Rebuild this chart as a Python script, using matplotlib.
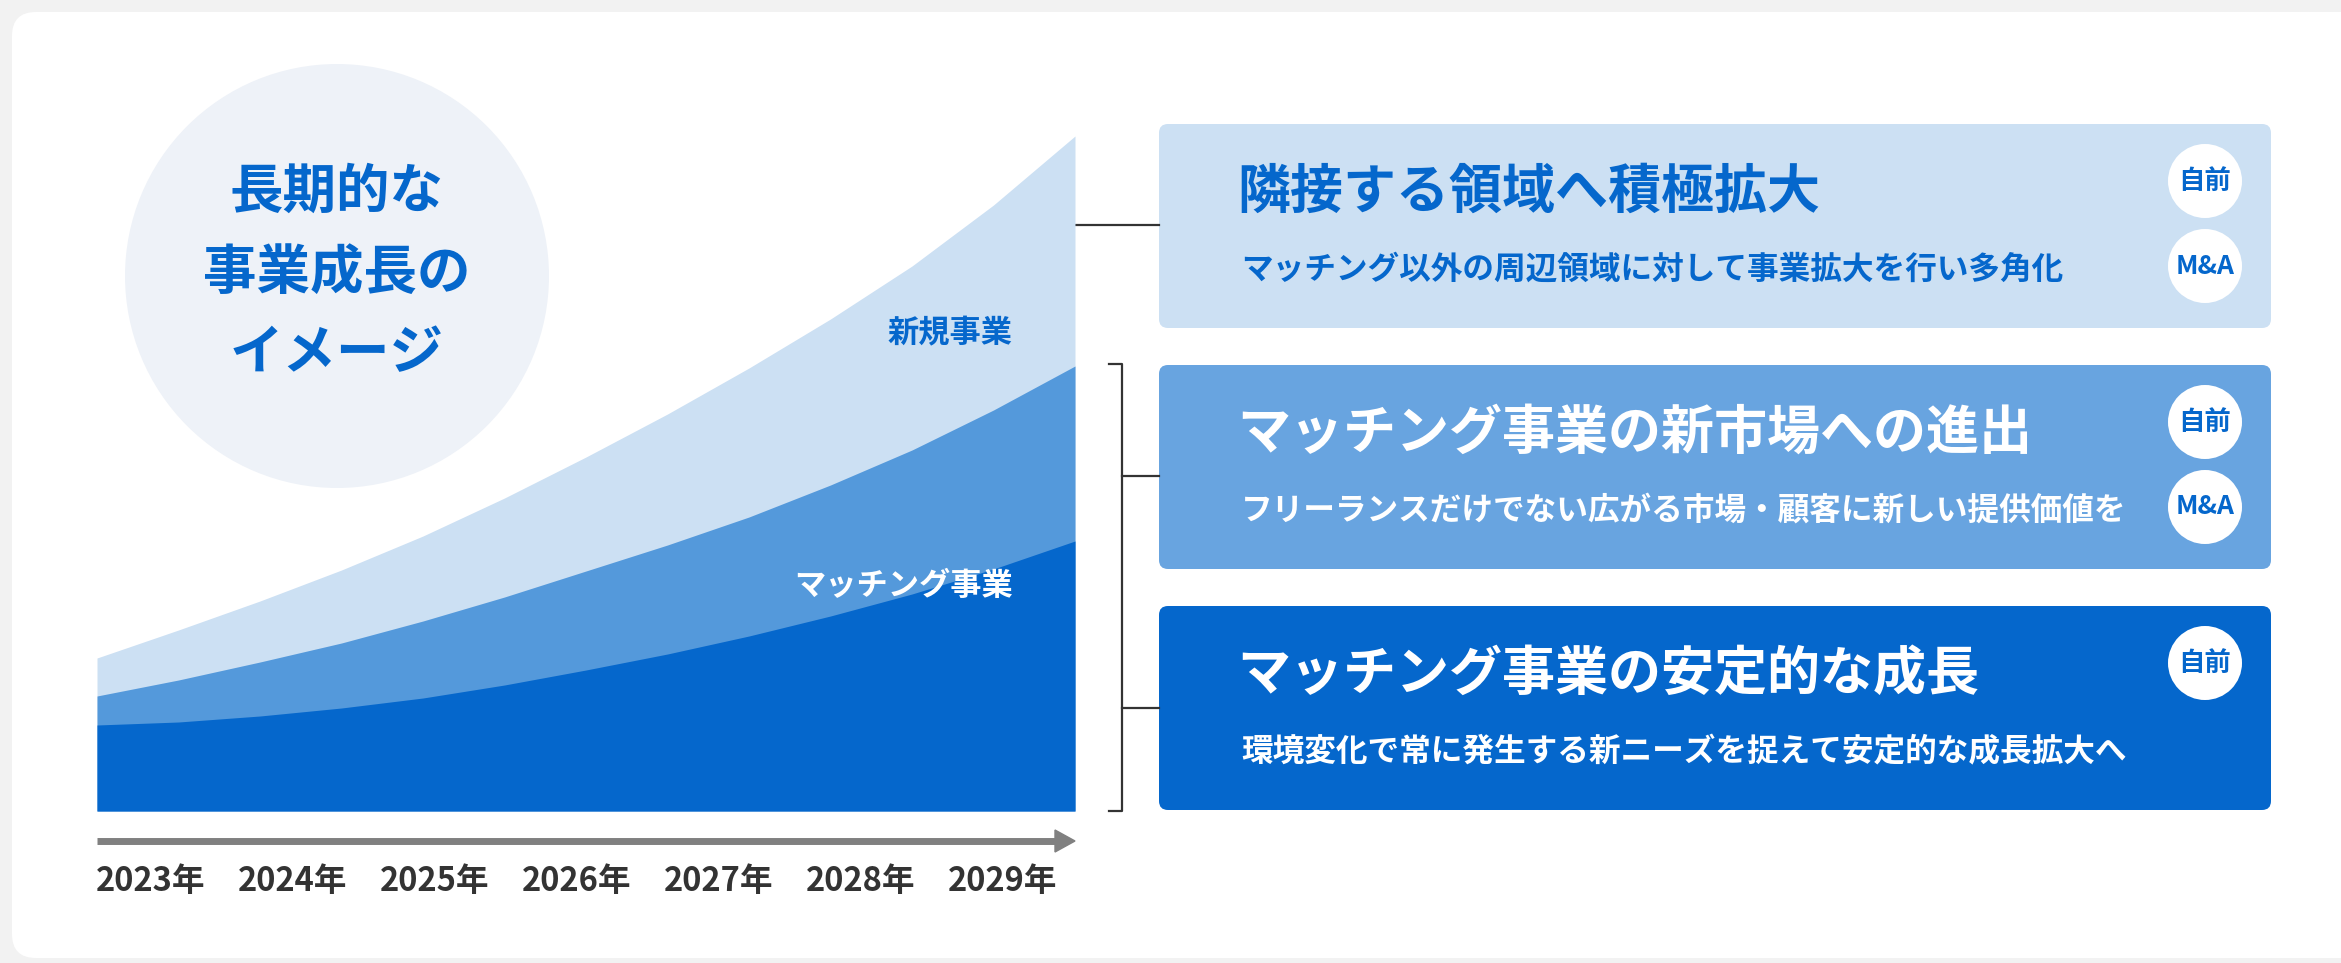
import matplotlib.pyplot as plt
from matplotlib.patches import FancyBboxPatch, Circle, Polygon

plt.rcParams['font.family'] = ['Noto Sans CJK JP', 'DejaVu Sans']

# data (image units at half-year steps)
t = [2023, 2023.5, 2024, 2024.5, 2025, 2025.5, 2026, 2026.5, 2027, 2027.5, 2028, 2028.5, 2029]
matching = [86, 89, 95, 103, 113, 126, 141, 157, 175, 195, 217, 242, 270]
matching_new_mkt = [115, 131, 149, 168, 190, 214, 240, 266, 294, 326, 361, 401, 445]
total = [153, 181, 210, 241, 275, 313, 354, 397, 443, 492, 545, 606, 675]
years = ['2023年', '2024年', '2025年', '2026年', '2027年', '2028年', '2029年']

titles = ['隣接する領域へ積極拡大', 'マッチング事業の新市場への進出', 'マッチング事業の安定的な成長']
subs = ['マッチング以外の周辺領域に対して事業拡大を行い多角化',
        'フリーランスだけでない広がる市場・顧客に新しい提供価値を',
        '環境変化で常に発生する新ニーズを捉えて安定的な成長拡大へ']
badges = [['自前', 'M&A'], ['自前', 'M&A'], ['自前']]

DARK = '#0567cc'
MID = '#5499db'
LIGHT = '#cce0f3'
BOX2 = '#68a4e0'

W, H = 2341, 963
fig = plt.figure(figsize=(W / 100, H / 100), dpi=100, facecolor='#f2f2f2')
bg = fig.add_axes([0, 0, 1, 1])
bg.set_xlim(0, W)
bg.set_ylim(H, 0)
bg.axis('off')

# white panel + circle
bg.add_patch(FancyBboxPatch((12, 12), 2400, 946, boxstyle='round,pad=0,rounding_size=24',
                            facecolor='white', edgecolor='none'))
bg.add_patch(Circle((337, 276), 212, facecolor='#eef2f8', edgecolor='none'))
bg.text(337, 273, '長期的な\n事業成長の\nイメージ', ha='center', va='center', fontsize=38.5,
        fontweight='bold', color=DARK, linespacing=1.6)

# chart
ax = fig.add_axes([97 / W, (H - 811) / H, 978 / W, 691 / H])
ax.set_xlim(2023, 2029)
ax.set_ylim(0, 691)
ax.axis('off')
ax.patch.set_alpha(0)
ax.fill_between(t, 0, total, color=LIGHT, lw=0)
ax.fill_between(t, 0, matching_new_mkt, color=MID, lw=0)
ax.fill_between(t, 0, matching, color=DARK, lw=0)

ax.text(1013, 333, '新規事業', ha='right', va='center', fontsize=22.5, fontweight='bold',
        color=DARK, transform=bg.transData)
ax.text(1013, 586, 'マッチング事業', ha='right', va='center', fontsize=22.5, fontweight='bold',
        color='white', transform=bg.transData)

# time arrow
bg.plot([97, 1058], [841, 841], color='#808080', lw=5, solid_capstyle='butt')
bg.add_patch(Polygon([(1055, 830), (1075, 841), (1055, 852)], closed=True, color='#808080'))
for i, y in enumerate(years):
    bg.text(151 + i * 142, 881, y, ha='center', va='center', fontsize=23.5,
            fontweight='bold', color='#333333')

# connectors
lc = '#333333'
bg.plot([1075, 1159], [225, 225], color=lc, lw=1.6)
bg.plot([1109, 1122, 1122, 1109], [364, 364, 811, 811], color=lc, lw=1.6)
bg.plot([1122, 1159], [476, 476], color=lc, lw=1.6)
bg.plot([1122, 1159], [708, 708], color=lc, lw=1.6)

# boxes
box_top = [124, 365, 606]
box_col = [LIGHT, BOX2, DARK]
txt_col = [DARK, 'white', 'white']
for i in range(3):
    y0 = box_top[i]
    bg.add_patch(FancyBboxPatch((1159, y0), 2271 - 1159, 204, boxstyle='round,pad=0,rounding_size=9',
                                facecolor=box_col[i], edgecolor='none'))
    bg.text(1237, y0 + 68, titles[i], ha='left', va='center', fontsize=38.2,
            fontweight='bold', color=txt_col[i])
    bg.text(1241, y0 + 146, subs[i], ha='left', va='center', fontsize=22.8,
            fontweight='bold', color=txt_col[i])
    for j, b in enumerate(badges[i]):
        cy = y0 + 57 + j * 85
        bg.add_patch(Circle((2205, cy), 37, facecolor='white', edgecolor='none'))
        bg.text(2205, cy, b, ha='center', va='center', fontsize=19, fontweight='bold', color=DARK)

fig.savefig('out.png', dpi=100, facecolor=fig.get_facecolor())
